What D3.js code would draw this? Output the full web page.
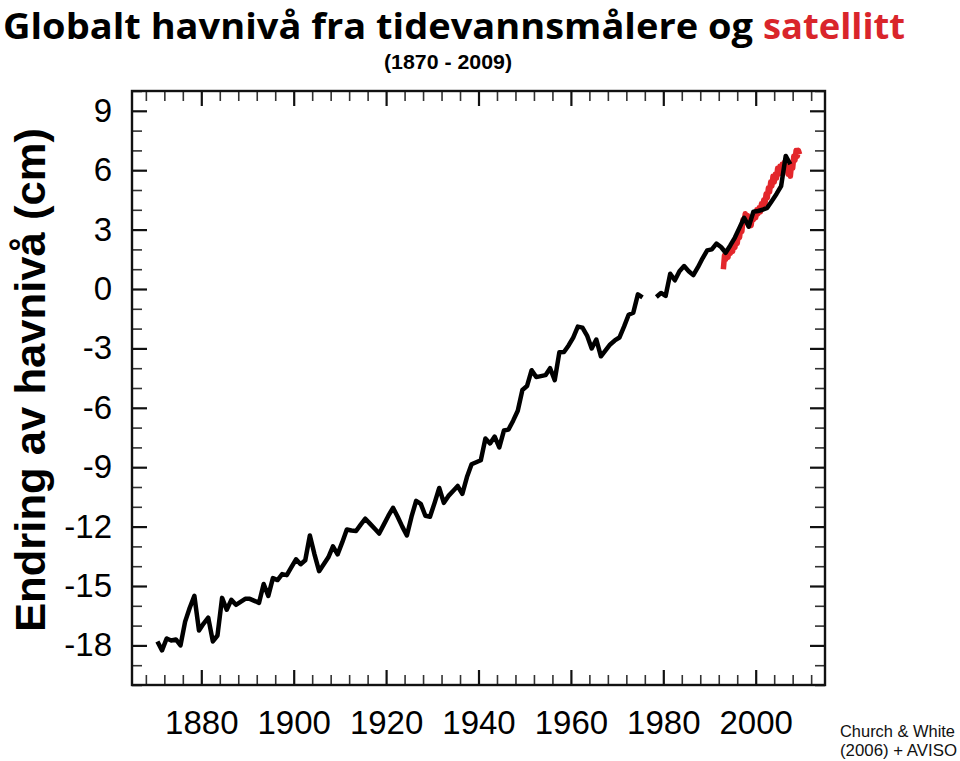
<!DOCTYPE html>
<html>
<head>
<meta charset="utf-8">
<script src="https://cdn.jsdelivr.net/npm/d3@7"></script>
<style>
  html, body { margin: 0; padding: 0; background: #fff; }
  svg { display: block; }
</style>
</head>
<body>
<svg id="chart" width="960" height="761"></svg>
<script>
// ---- Data ----
const tideYears = d3.range(1870, 2008);
const tideValues = [
  -17.8, -18.25, -17.65, -17.75, -17.7, -18.0, -16.8, -16.1, -15.5, -17.25,
  -16.9, -16.6, -17.8, -17.5, -15.6, -16.2, -15.7, -15.95, -15.8, -15.65,
  -15.65, -15.75, -15.85, -14.9, -15.5, -14.6, -14.7, -14.4, -14.45, -14.05,
  -13.65, -13.9, -13.7, -12.45, -13.4, -14.25, -13.9, -13.55, -13.0, -13.4,
  -12.8, -12.15, -12.2, -12.22, -11.9, -11.6, -11.85, -12.1, -12.35, -11.9,
  -11.45, -11.05, -11.5, -12.0, -12.45, -11.5, -10.7, -10.85, -11.45, -11.5,
  -10.8, -10.05, -10.8, -10.45, -10.2, -9.95, -10.35, -9.5, -8.85, -8.75,
  -8.65, -7.55, -7.8, -7.45, -8.0, -7.15, -7.1, -6.65, -6.15, -5.1,
  -4.9, -4.1, -4.45, -4.4, -4.35, -4.0, -4.6, -3.2, -3.18, -2.85,
  -2.45, -1.9, -1.95, -2.35, -3.0, -2.55, -3.4, -3.1, -2.8, -2.6,
  -2.45, -1.9, -1.3, -1.2, -0.27, -0.42, null, null, -0.4, -0.2,
  -0.35, 0.77, 0.44, 0.9, 1.16, 0.9, 0.7, 1.1, 1.55, 1.95,
  2.0, 2.29, 2.12, 1.83, 2.2, 2.6, 3.1, 3.6, 3.15, 3.9,
  3.94, 4.0, 4.1, 4.45, 4.8, 5.2, 6.72, 6.3
];
const satTimes = [
  1993.0, 1993.25, 1993.5, 1993.75, 1994.0, 1994.25, 1994.5, 1994.75,
  1995.0, 1995.25, 1995.5, 1995.75, 1996.0, 1996.25, 1996.5, 1996.75,
  1997.0, 1997.25, 1997.5, 1997.75, 1998.0, 1998.25, 1998.5, 1998.75,
  1999.0, 1999.25, 1999.5, 1999.75, 2000.0, 2000.25, 2000.5, 2000.75,
  2001.0, 2001.25, 2001.5, 2001.75, 2002.0, 2002.25, 2002.5, 2002.75,
  2003.0, 2003.25, 2003.5, 2003.75, 2004.0, 2004.25, 2004.5, 2004.75,
  2005.0, 2005.25, 2005.5, 2005.75, 2006.0, 2006.25, 2006.5, 2006.75,
  2007.0, 2007.25, 2007.5, 2007.75, 2008.0, 2008.25, 2008.5, 2008.75,
  2009.0, 2009.25, 2009.5
];
const satValues = [
  1.0, 1.7, 1.5, 1.9, 1.6, 2.0, 1.8, 2.1,
  1.9, 2.3, 2.1, 2.6, 2.3, 2.8, 2.6, 3.1,
  2.9, 3.5, 3.4, 3.8, 3.5, 3.7, 3.2, 3.6,
  3.2, 3.6, 3.5, 3.8, 3.6, 4.0, 3.8, 4.1,
  3.9, 4.3, 4.1, 4.5, 4.3, 4.8, 4.6, 5.1,
  4.9, 5.4, 5.2, 5.7, 5.4, 5.8, 5.6, 6.1,
  5.8, 6.2, 5.9, 6.3, 6.0, 6.4, 6.0, 6.2,
  5.8, 6.0, 5.7, 6.3, 6.1, 6.7, 6.5, 7.0,
  6.7, 7.0, 6.8
];
const xMajorTicks = [1880, 1900, 1920, 1940, 1960, 1980, 2000];
const xMinorTicks = d3.range(1868, 2015, 4).filter(v => v % 20 !== 0);
const yMajorTicks = [-18, -15, -12, -9, -6, -3, 0, 3, 6, 9];
const yMinorTicks = d3.range(-20, 11, 1).filter(v => v % 3 !== 0);

const titleMain = "Globalt havnivå fra tidevannsmålere og";
const titleRed = "satellitt";
const subtitle = "(1870 - 2009)";
const yLabel = "Endring av havnivå (cm)";
const credit = ["Church & White", "(2006) + AVISO"];

// ---- Layout ----
const svg = d3.select("#chart");
const L = 132, R = 825, T = 91, B = 685;
const x = d3.scaleLinear().domain([1865, 2015]).range([L, R]);
const y = d3.scaleLinear().domain([-20, 10]).range([B, T]);

const tide = tideYears.map((yr, i) => ({ t: yr + 0.5, v: tideValues[i] }));
const sat = satTimes.map((t, i) => ({ t: t, v: satValues[i] }));

// Title (two pieces)
const titleFont = "'Open Sans', Lato, sans-serif";
svg.append("text")
  .attr("x", 3).attr("y", 38.5)
  .attr("font-family", titleFont).attr("font-weight", "bold").attr("font-size", 36)
  .attr("textLength", 750).attr("lengthAdjust", "spacingAndGlyphs")
  .attr("fill", "#000")
  .text(titleMain);
svg.append("text")
  .attr("x", 763).attr("y", 38.5)
  .attr("font-family", titleFont).attr("font-weight", "bold").attr("font-size", 36)
  .attr("textLength", 142).attr("lengthAdjust", "spacingAndGlyphs")
  .attr("fill", "#d9252b")
  .text(titleRed);

svg.append("text")
  .attr("x", 448).attr("y", 69)
  .attr("text-anchor", "middle")
  .attr("font-family", "'Liberation Sans Narrow', 'Liberation Sans', Arial, sans-serif")
  .attr("font-weight", "bold")
  .attr("font-size", 21)
  .attr("textLength", 128)
  .attr("lengthAdjust", "spacingAndGlyphs")
  .text(subtitle);

// Y label
svg.append("text")
  .attr("transform", "translate(45,380) rotate(-90)")
  .attr("text-anchor", "middle")
  .attr("font-family", "'Liberation Sans', Arial, sans-serif")
  .attr("font-weight", "bold")
  .attr("font-size", 42)
  .attr("textLength", 504)
  .attr("lengthAdjust", "spacingAndGlyphs")
  .text(yLabel);

// Credit
credit.forEach((c, i) => {
  svg.append("text")
    .attr("x", 840).attr("y", 737 + i * 19)
    .attr("font-family", "'Liberation Sans', Arial, sans-serif")
    .attr("font-size", 17)
    .attr("textLength", i === 0 ? 115 : 117)
    .attr("lengthAdjust", "spacingAndGlyphs")
    .attr("fill", "#111")
    .text(c);
});

// Axes
function styleAxis(g, major) {
  g.select(".domain").remove();
  g.selectAll(".tick line").attr("stroke", major ? "#111" : "#333").attr("stroke-width", major ? 2.2 : 1.6);
  g.selectAll(".tick text")
    .attr("font-family", "'Liberation Sans', Arial, sans-serif")
    .attr("font-size", 33)
    .attr("fill", "#000");
}
const plainFmt = d => String(d);
svg.append("g").attr("transform", `translate(0,${B})`)
  .call(d3.axisBottom(x).tickValues(xMajorTicks).tickFormat(plainFmt).tickSizeInner(-15).tickSizeOuter(0).tickPadding(26))
  .call(g => styleAxis(g, true));
svg.append("g").attr("transform", `translate(0,${B})`)
  .call(d3.axisBottom(x).tickValues(xMinorTicks).tickFormat("").tickSizeInner(-10).tickSizeOuter(0))
  .call(g => styleAxis(g, false));
svg.append("g").attr("transform", `translate(0,${T})`)
  .call(d3.axisTop(x).tickValues(xMajorTicks).tickFormat("").tickSizeInner(-15).tickSizeOuter(0))
  .call(g => styleAxis(g, true));
svg.append("g").attr("transform", `translate(0,${T})`)
  .call(d3.axisTop(x).tickValues(xMinorTicks).tickFormat("").tickSizeInner(-10).tickSizeOuter(0))
  .call(g => styleAxis(g, false));
svg.append("g").attr("transform", `translate(${L},0)`)
  .call(d3.axisLeft(y).tickValues(yMajorTicks).tickFormat(plainFmt).tickSizeInner(-15).tickSizeOuter(0).tickPadding(20))
  .call(g => styleAxis(g, true));
svg.append("g").attr("transform", `translate(${L},0)`)
  .call(d3.axisLeft(y).tickValues(yMinorTicks).tickFormat("").tickSizeInner(-10).tickSizeOuter(0))
  .call(g => styleAxis(g, false));
svg.append("g").attr("transform", `translate(${R},0)`)
  .call(d3.axisRight(y).tickValues(yMajorTicks).tickFormat("").tickSizeInner(-15).tickSizeOuter(0))
  .call(g => styleAxis(g, true));
svg.append("g").attr("transform", `translate(${R},0)`)
  .call(d3.axisRight(y).tickValues(yMinorTicks).tickFormat("").tickSizeInner(-10).tickSizeOuter(0))
  .call(g => styleAxis(g, false));

// Frame
svg.append("rect")
  .attr("x", L).attr("y", T).attr("width", R - L).attr("height", B - T)
  .attr("fill", "none").attr("stroke", "#111").attr("stroke-width", 2.4);

// Lines
const line = d3.line().defined(d => d.v !== null).x(d => x(d.t)).y(d => y(d.v));
svg.append("path").datum(sat)
  .attr("d", line)
  .attr("fill", "none").attr("stroke", "#e3262b").attr("stroke-width", 5.5)
  .attr("stroke-linejoin", "round");
svg.append("path").datum(tide)
  .attr("d", line)
  .attr("fill", "none").attr("stroke", "#000").attr("stroke-width", 4.5)
  .attr("stroke-linejoin", "round");
</script>
</body>
</html>
